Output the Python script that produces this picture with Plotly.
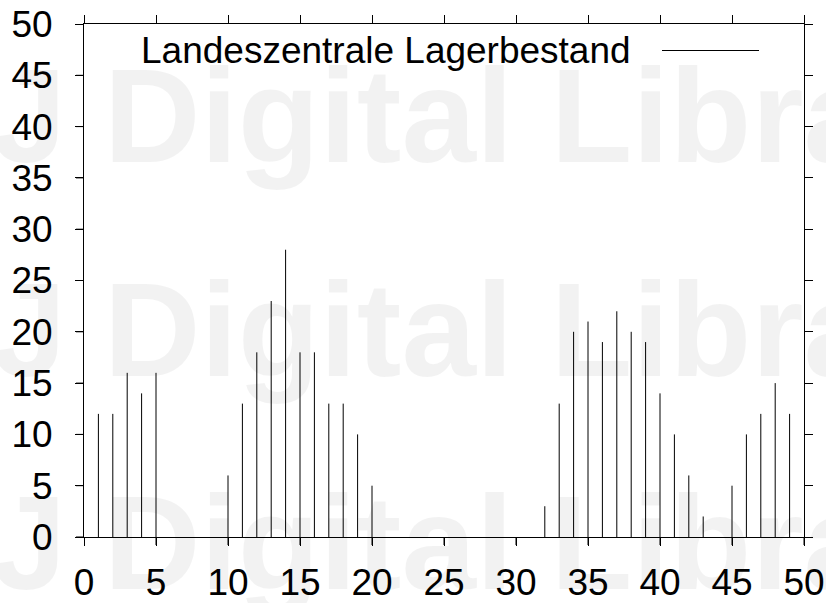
import plotly.graph_objects as go

# Data
x_vals = [1, 2, 3, 4, 5, 10, 11, 12, 13, 14, 15, 16, 17, 18, 19, 20,
          32, 33, 34, 35, 36, 37, 38, 39, 40, 41, 42, 43, 45, 46, 47, 48, 49]
y_vals = [12, 12, 16, 14, 16, 6, 13, 18, 23, 28, 18, 18, 13, 13, 10, 5,
          3, 13, 20, 21, 19, 22, 20, 19, 14, 10, 6, 2, 5, 10, 12, 15, 12]
series_name = "Landeszentrale Lagerbestand"
tick_vals = [0, 5, 10, 15, 20, 25, 30, 35, 40, 45, 50]
watermark_text = "J Digital Library"

W, H = 826, 603
L, R, T, B = 84, 22, 24, 66
pw, ph = W - L - R, H - T - B
TICK_LEN = 8


def px(xp):
    return (xp - L) / pw


def py(yp):
    return (H - B - yp) / ph


# impulses
xs, ys = [], []
for xv, yv in zip(x_vals, y_vals):
    xs += [xv, xv, None]
    ys += [0, yv, None]

fig = go.Figure()
fig.add_trace(go.Scatter(x=xs, y=ys, mode="lines", name=series_name,
                         line=dict(color="#000000", width=1),
                         showlegend=False, hoverinfo="skip"))

font_family = "Liberation Sans, Arial, Helvetica, sans-serif"

annotations = []
for ycen in [115, 329, 543]:
    annotations.append(dict(
        text=watermark_text, xref="paper", yref="paper",
        x=px(-10), y=py(ycen), xanchor="left", yanchor="middle",
        showarrow=False,
        font=dict(family=font_family, size=134, color="rgba(0,0,0,0.05)",
                  weight="bold")))

# legend key (gnuplot style: text, then line sample)
annotations.append(dict(
    text=series_name, xref="paper", yref="paper",
    x=px(633), y=py(50), xanchor="right", yanchor="middle",
    showarrow=False, font=dict(family=font_family, size=37, color="#000")))

shapes = [dict(type="line", xref="paper", yref="paper",
               x0=px(662), x1=px(759), y0=py(50.5), y1=py(50.5),
               line=dict(color="#000", width=1))]

# outward tick marks on the bottom and left sides, placed through the axes
for v in tick_vals:
    shapes.append(dict(type="line", xref="x", yref="paper",
                       x0=v, x1=v, y0=0, y1=-TICK_LEN / ph,
                       line=dict(color="#000", width=1), layer="above"))
    shapes.append(dict(type="line", xref="paper", yref="y",
                       x0=-TICK_LEN / pw, x1=0, y0=v, y1=v,
                       line=dict(color="#000", width=1), layer="above"))

axis_common = dict(
    showline=True, linecolor="#000", linewidth=1, mirror="ticks",
    ticks="outside", ticklen=TICK_LEN, tickcolor="#000", tickwidth=1,
    showgrid=False, zeroline=False, automargin=False,
    tickmode="array", tickvals=tick_vals,
    ticktext=[str(v) for v in tick_vals],
    tickfont=dict(family=font_family, size=37, color="#000"),
    range=[0, 50], fixedrange=True,
)

fig.update_layout(
    width=W, height=H,
    margin=dict(l=L, r=R, t=T, b=B, pad=0, autoexpand=False),
    paper_bgcolor="white", plot_bgcolor="white",
    xaxis=dict(**axis_common, ticklabelstandoff=5),
    yaxis=dict(**axis_common, ticklabelstandoff=15),
    annotations=annotations, shapes=shapes,
    showlegend=False,
)

fig.write_html("out.html",
               config={"displayModeBar": False},
               post_script="document.body.style.margin='0';"
                           "document.body.style.overflow='hidden';")
